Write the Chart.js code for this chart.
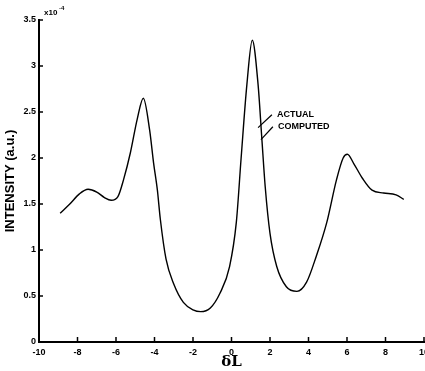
<!DOCTYPE html>
<html>
<head>
<meta charset="utf-8">
<script src="https://cdn.jsdelivr.net/npm/chart.js@4"></script>
<style>
  html, body { margin: 0; padding: 0; background: #fff; }
  #wrap { width: 425px; height: 371px; position: relative; }
</style>
</head>
<body>
<div id="wrap"><canvas id="chart"></canvas></div>
<script>
// ===== DATA =====
const deltaL = [-8.9, -8.4, -7.9, -7.45, -7.0, -6.6, -6.25, -5.9, -5.6, -5.25, -4.9, -4.58,
  -4.25, -4.05, -3.85, -3.7, -3.4, -3.0, -2.5, -2.0, -1.6, -1.1, -0.6, -0.1, 0.25, 0.5,
  0.8, 1.08, 1.38, 1.57, 1.75, 2.0, 2.35, 2.85, 3.4, 3.9, 4.4, 4.95, 5.45, 5.8, 6.02,
  6.35, 6.8, 7.3, 7.9, 8.55, 8.95];
const intensity = [1.40, 1.50, 1.61, 1.66, 1.63, 1.57, 1.54, 1.58, 1.77, 2.06, 2.42, 2.65,
  2.30, 1.95, 1.65, 1.34, 0.90, 0.63, 0.43, 0.35, 0.33, 0.37, 0.53, 0.82, 1.30, 2.00,
  2.80, 3.28, 2.80, 2.23, 1.69, 1.18, 0.82, 0.60, 0.55, 0.65, 0.93, 1.30, 1.76, 2.00, 2.04,
  1.94, 1.78, 1.65, 1.62, 1.60, 1.55];
const xTicks = [-10, -8, -6, -4, -2, 0, 2, 4, 6, 8, 10];
const yTicks = [0, 0.5, 1, 1.5, 2, 2.5, 3, 3.5];
const labelNames = ['ACTUAL', 'COMPUTED'];
// where each leader line touches the curve, and where its label sits (data units)
const leaderFrom = [[1.38, 2.33], [1.53, 2.20]];
const leaderTo = [[2.1, 2.47], [2.15, 2.34]];

const font = "'Liberation Sans', Arial, sans-serif";

// inward tick marks, labels with leaders, and the exponent
const extras = {
  id: 'extras',
  afterDraw(chart) {
    const { ctx, scales: { x, y } } = chart;
    ctx.save();
    ctx.strokeStyle = '#000';
    ctx.lineWidth = 1.5;
    xTicks.forEach(v => {
      const px = x.getPixelForValue(v);
      ctx.beginPath(); ctx.moveTo(px, y.bottom); ctx.lineTo(px, y.bottom - 5); ctx.stroke();
    });
    yTicks.forEach(v => {
      const py = y.getPixelForValue(v);
      ctx.beginPath(); ctx.moveTo(x.left, py); ctx.lineTo(x.left + 4, py); ctx.stroke();
    });

    ctx.lineWidth = 1.2;
    ctx.fillStyle = '#000';
    ctx.font = "bold 9px " + font;
    ctx.textBaseline = 'middle';
    labelNames.forEach((name, i) => {
      const x0 = x.getPixelForValue(leaderFrom[i][0]), y0 = y.getPixelForValue(leaderFrom[i][1]);
      const x1 = x.getPixelForValue(leaderTo[i][0]), y1 = y.getPixelForValue(leaderTo[i][1]);
      ctx.beginPath(); ctx.moveTo(x0, y0); ctx.lineTo(x1, y1); ctx.stroke();
      ctx.fillText(name, x1 + 5, y1);
    });

    ctx.font = "bold 8px " + font;
    ctx.textBaseline = 'alphabetic';
    ctx.fillText('x10', x.left + 5, y.top - 5);
    ctx.font = "bold 6px " + font;
    ctx.fillText('-4', x.left + 20, y.top - 10);
    ctx.restore();
  }
};

new Chart(document.getElementById('chart'), {
  type: 'scatter',
  data: {
    datasets: [{
      label: 'Intensity',
      data: deltaL.map((v, i) => ({ x: v, y: intensity[i] })),
      showLine: true,
      borderColor: '#000',
      borderWidth: 1.4,
      pointRadius: 0,
      cubicInterpolationMode: 'monotone'
    }]
  },
  options: {
    responsive: true,
    maintainAspectRatio: false,
    animation: false,
    layout: { padding: { top: 20, right: 1, bottom: 0, left: 0 } },
    plugins: { legend: { display: false }, tooltip: { enabled: false } },
    scales: {
      x: {
        type: 'linear', min: -10, max: 10,
        afterBuildTicks: s => { s.ticks = xTicks.map(v => ({ value: v })); },
        afterFit: s => { s.height = 29; s.paddingLeft = 0; s.paddingRight = 0; },
        grid: { display: false, drawTicks: false },
        border: { display: true, color: '#000', width: 2 },
        ticks: { color: '#000', padding: 5, font: { family: font, size: 9, weight: 'bold' } },
        title: { display: true, text: 'δL', color: '#000', padding: { top: 0, bottom: 0 },
          font: { family: "'DejaVu Serif', serif", size: 15, weight: 'bold' } }
      },
      y: {
        type: 'linear', min: 0, max: 3.5,
        afterBuildTicks: s => { s.ticks = yTicks.map(v => ({ value: v })); },
        afterFit: s => { s.width = 39; s.paddingTop = 0; s.paddingBottom = 0; },
        grid: { display: false, drawTicks: false },
        border: { display: true, color: '#000', width: 2 },
        ticks: { color: '#000', padding: 3, font: { family: font, size: 9, weight: 'bold' },
          callback: v => String(v) },
        title: { display: true, text: 'INTENSITY (a.u.)', color: '#000', padding: { top: 3, bottom: 0 },
          font: { family: font, size: 13, weight: 'bold' } }
      }
    }
  },
  plugins: [extras]
});
</script>
</body>
</html>
